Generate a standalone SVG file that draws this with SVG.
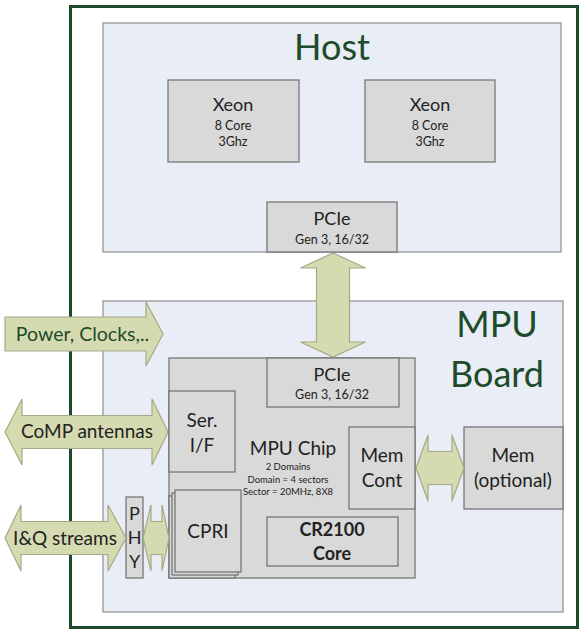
<svg xmlns="http://www.w3.org/2000/svg" width="585" height="634" viewBox="0 0 585 634">
<style>
  text { font-family: Lato, "Open Sans", "Liberation Sans", sans-serif; fill: #222222; text-anchor: middle; }
  .panel { fill: #e8edf6; stroke: #8c8c8c; stroke-width: 1.2; }
  .box { fill: #d9d9d9; stroke: #6e6e6e; stroke-width: 1.2; }
  .arrow { fill: #d6dab1; stroke: #a4a986; stroke-width: 1.2; stroke-linejoin: miter; }
  .title { font-size: 36px; fill: #1e4b2a; }
  .big { font-size: 19px; }
  .med { font-size: 18px; }
  .small { font-size: 12.5px; }
  .tiny { font-size: 9.5px; }
  .bold { font-weight: bold; }
</style>
<rect x="0" y="0" width="585" height="634" fill="#ffffff"/>
<g id="board-outline">
  <rect x="70.5" y="6.5" width="507" height="621" fill="#ffffff" stroke="#1d4a29" stroke-width="3"/>
</g>
<g id="host">
  <rect class="panel" x="103" y="23" width="458" height="229"/>
  <text class="title" x="332" y="60">Host</text>
</g>
<g id="xeon-1">
  <rect class="box" x="168" y="80" width="131" height="82"/>
  <text class="med" x="233" y="111">Xeon</text>
  <text class="small" x="233" y="130">8 Core</text>
  <text class="small" x="233" y="146">3Ghz</text>
</g>
<g id="xeon-2">
  <rect class="box" x="365" y="80" width="130" height="82"/>
  <text class="med" x="430" y="111">Xeon</text>
  <text class="small" x="430" y="130">8 Core</text>
  <text class="small" x="430" y="146">3Ghz</text>
</g>
<g id="host-pcie">
  <rect class="box" x="267" y="202" width="130" height="50"/>
  <text class="med" x="332" y="225">PCIe</text>
  <text class="small" x="332" y="244">Gen 3, 16/32</text>
</g>
<g id="mpu-board">
  <rect class="panel" x="103" y="301" width="460" height="311"/>
  <text class="title" x="497" y="337">MPU</text>
  <text class="title" x="497" y="387">Board</text>
</g>
<g id="mpu-chip">
  <rect class="box" x="169" y="358" width="246" height="220"/>
  <text class="big" x="293" y="455">MPU Chip</text>
  <text class="tiny" x="288" y="470">2 Domains</text>
  <text class="tiny" x="288" y="483">Domain = 4 sectors</text>
  <text class="tiny" x="288" y="495">Sector = 20MHz, 8X8</text>
</g>
<g id="mpu-pcie">
  <rect class="box" x="267" y="358" width="132" height="49"/>
  <text class="med" x="332" y="381">PCIe</text>
  <text class="small" x="332" y="399">Gen 3, 16/32</text>
</g>
<g id="ser-if">
  <rect class="box" x="169" y="391" width="66" height="81"/>
  <text class="big" x="202" y="427">Ser.</text>
  <text class="big" x="202" y="452">I/F</text>
</g>
<g id="mem-cont">
  <rect class="box" x="349" y="427" width="66" height="82"/>
  <text class="big" x="382" y="462">Mem</text>
  <text class="big" x="382" y="487">Cont</text>
</g>
<g id="cr2100-core">
  <rect class="box" x="267" y="517" width="131" height="49"/>
  <text class="med bold" x="332" y="536">CR2100</text>
  <text class="med bold" x="332" y="560">Core</text>
</g>
<g id="cpri">
  <rect class="box" x="169" y="496" width="66" height="82"/>
  <rect class="box" x="172" y="493" width="66" height="82"/>
  <rect class="box" x="175" y="490" width="66" height="82"/>
  <text class="big" x="208" y="538">CPRI</text>
</g>
<g id="phy">
  <rect class="box" x="126" y="497" width="17" height="81"/>
  <text class="med" x="134.5" y="520">P</text>
  <text class="med" x="134.5" y="544">H</text>
  <text class="med" x="134.5" y="568">Y</text>
</g>
<g id="mem">
  <rect class="box" x="464" y="427" width="99" height="82"/>
  <text class="big" x="513" y="462">Mem</text>
  <text class="big" x="513" y="487">(optional)</text>
</g>
<g id="connectors">
  <path class="arrow" d="M333,253 L365.5,268 H349.5 V342 H365.5 L333,357 L300.5,342 H316.5 V268 H300.5 Z"/>
  <path class="arrow" d="M5,317 H146 V302 L163,334 L146,366 V351 H5 Z"/>
  <path class="arrow" d="M5,432 L22,399 V415.5 H152 V399 L168,432 L152,465 V448.5 H22 V465 Z"/>
  <path class="arrow" d="M5,538 L21,505 V521.5 H108 V505 L126,538 L108,571 V554.5 H21 V571 Z"/>
  <path class="arrow" d="M143,538 L151,505 V521.5 H162 V505 L169,538 L162,571 V554.5 H151 V571 Z"/>
  <path class="arrow" d="M416,468 L428,435 V451.5 H452 V435 L464,468 L452,501 V484.5 H428 V501 Z"/>
  <text x="82.5" y="341" style="fill:#1e4b2a;font-size:19.5px">Power, Clocks,..</text>
  <text class="big" x="87" y="438">CoMP antennas</text>
  <text class="big" x="65" y="545">I&amp;Q streams</text>
</g>
</svg>
